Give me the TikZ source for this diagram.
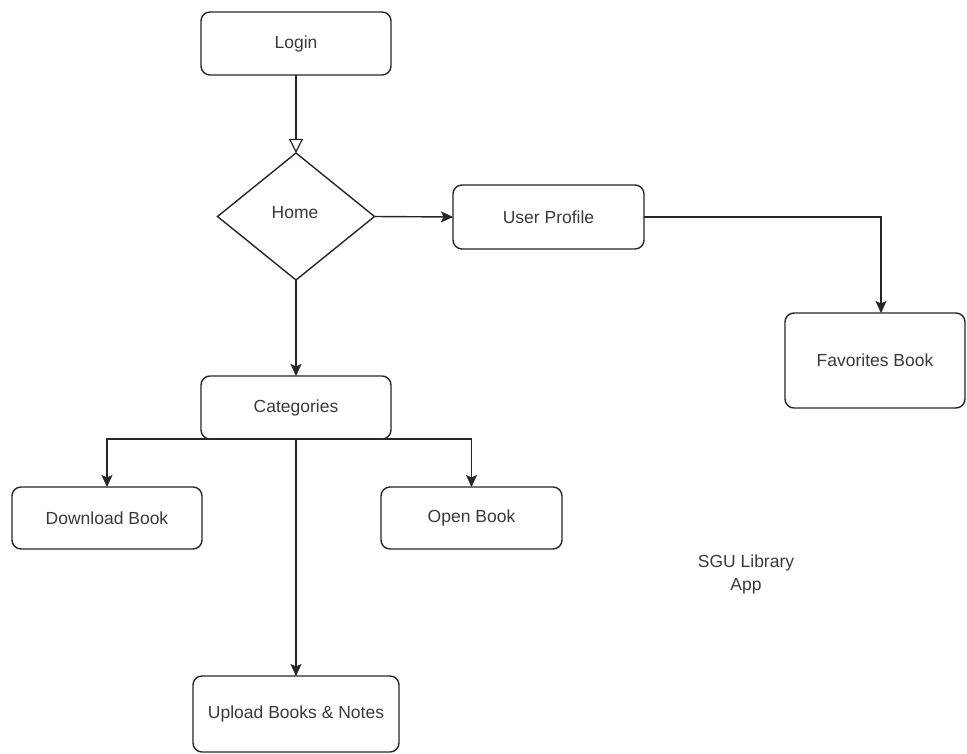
\documentclass[tikz,border=0pt]{standalone}
\usepackage{fontspec}
\setmainfont{Liberation Sans}
\usetikzlibrary{shapes.geometric,arrows.meta}
\definecolor{linecol}{HTML}{262626}
\definecolor{textcol}{HTML}{3A3A3A}
\tikzset{
  box/.style={draw=linecol, line width=1.4pt, rounded corners=9pt, fill=white,
    font=\fontsize{17.5}{21}\selectfont, text=textcol, inner sep=0pt, outer sep=0pt},
  dec/.style={draw=linecol, line width=1.4pt, diamond, fill=white,
    font=\fontsize{17.5}{21}\selectfont, text=textcol, inner sep=0pt, outer sep=0pt},
  arr/.style={draw=linecol, line width=1.4pt, -{Stealth[length=12pt,width=11pt,inset=2.5pt,line width=0.5pt]}},
  openarr/.style={draw=linecol, line width=1.4pt, -{Triangle[open,length=14pt,width=14pt,line width=1.2pt]}},
  lbl/.style={font=\fontsize{17.5}{23}\selectfont, text=textcol, align=center, inner sep=0pt}
}
\begin{document}
\begin{tikzpicture}[x=1pt,y=-1pt]
\useasboundingbox (0,0) rectangle (967,754);
\node[box, minimum width=190pt, minimum height=63pt] (login) at (296,43.5) {Login};
\node[dec, minimum width=157pt, minimum height=127pt, shape aspect=1.236] (home) at (296,216.5) {};
\node[text=textcol, font=\fontsize{17.5}{21}\selectfont, inner sep=0pt] (hometxt) at (295,213) {Home};
\node[box, minimum width=191pt, minimum height=64pt] (up) at (548.5,217) {User Profile};
\node[box, minimum width=180pt, minimum height=95pt] (fav) at (875,360.5) {Favorites Book};
\node[box, minimum width=190pt, minimum height=63pt] (cat) at (296,407.5) {Categories};
\node[box, minimum width=190pt, minimum height=62pt] (dl) at (107,518) {Download Book};
\node[box, minimum width=181pt, minimum height=62pt] (ob) at (471.5,518) {Open Book};
\node[box, minimum width=206pt, minimum height=76pt] (upl) at (296,714) {Upload Books \& Notes};
\node[lbl] (title) at (746,574) {SGU Library\\App};

\draw[openarr] (login.south) -- (home.north);
\draw[arr] (home.east) -- (up.west);
\draw[arr] (up.east) -| ([xshift=6pt]fav.north);
\draw[arr] (home.south) -- (cat.north);
\draw[arr] (cat.south) -| (dl.north);
\draw[arr] (cat.south) -| (ob.north);
\draw[arr] (cat.south) -- (upl.north);
\end{tikzpicture}
\end{document}
